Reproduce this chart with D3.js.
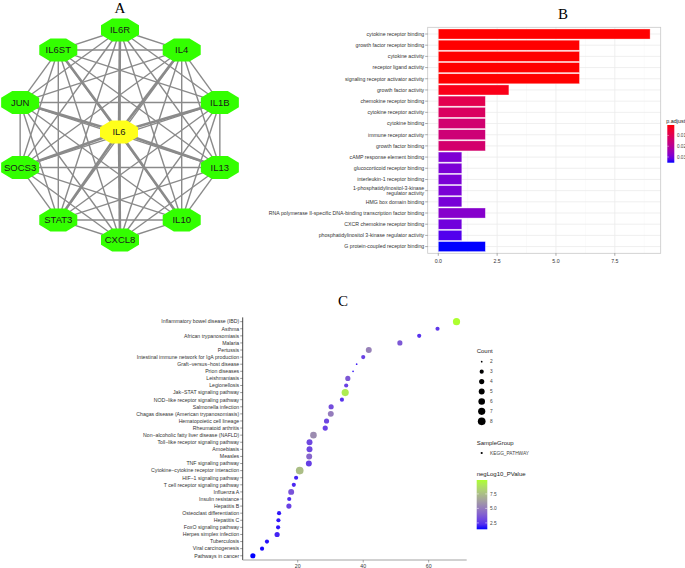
<!DOCTYPE html>
<html><head><meta charset="utf-8">
<script src="https://cdn.jsdelivr.net/npm/d3@7"></script>
<style>body{margin:0;background:#fff}svg{display:block}</style></head>
<body>
<svg id="chart" width="685" height="568"></svg>
<script>
// ---------- Panel A data ----------
const ringNodes = ["IL6R","IL4","IL1B","IL13","IL10","CXCL8","STAT3","SOCS3","JUN","IL6ST"];
const hubNode = "IL6";

// ---------- Panel B data ----------
const goTerms = ["cytokine receptor binding","growth factor receptor binding","cytokine activity","receptor ligand activity","signaling receptor activator activity","growth factor activity","chemokine receptor binding","cytokine receptor activity","cytokine binding","immune receptor activity","growth factor binding","cAMP response element binding","glucocorticoid receptor binding","interleukin-1 receptor binding","1-phosphatidylinositol-3-kinase\nregulator activity","HMG box domain binding","RNA polymerase II-specific DNA-binding transcription factor binding","CXCR chemokine receptor binding","phosphatidylinositol 3-kinase regulator activity","G protein-coupled receptor binding"];
const goCounts = [9,6,6,6,6,3,2,2,2,2,2,1,1,1,1,1,2,1,1,2];
const goPadj = [0.0003,0.0003,0.0003,0.0003,0.0003,0.002,0.009,0.0115,0.014,0.015,0.0135,0.029,0.0293,0.0293,0.0293,0.0296,0.028,0.0303,0.0328,0.0353];
const padjTicks = [0.01,0.02,0.03];
const goXTicks = [0,2.5,5,7.5];

// ---------- Panel C data ----------
const keggTerms = ["Inflammatory bowel disease (IBD)","Asthma","African trypanosomiasis","Malaria","Pertussis","Intestinal immune network for IgA production","Graft\u2212versus\u2212host disease","Prion diseases","Leishmaniasis","Legionellosis","Jak\u2212STAT signaling pathway","NOD\u2212like receptor signaling pathway","Salmonella infection","Chagas disease (American trypanosomiasis)","Hematopoietic cell lineage","Rheumatoid arthritis","Non\u2212alcoholic fatty liver disease (NAFLD)","Toll\u2212like receptor signaling pathway","Amoebiasis","Measles","TNF signaling pathway","Cytokine\u2212cytokine receptor interaction","HIF\u22121 signaling pathway","T cell receptor signaling pathway","Influenza A","Insulin resistance","Hepatitis B","Osteoclast differentiation","Hepatitis C","FoxO signaling pathway","Herpes simplex infection","Tuberculosis","Viral carcinogenesis","Pathways in cancer"];
const keggX = [68.5,62.7,57.1,51.2,41.7,40.0,38.0,36.9,35.3,34.8,34.5,33.5,30.2,30.1,28.8,28.4,24.8,23.6,23.6,23.5,23.4,20.6,19.5,18.8,18.0,17.4,17.3,14.3,14.1,14.0,13.7,10.6,9.1,6.3];
const keggCount = [7,3,3,4,5,3,2,2,4,3,7,3,4,5,4,4,6,5,5,5,5,8,3,3,5,3,4,3,3,3,4,3,3,4];
const keggP = [9.9,2.6,2.4,3.7,5.2,2.9,1.9,1.8,3.7,2.9,9.2,2.4,3.3,5.0,3.1,2.9,5.6,3.1,3.1,4.2,2.8,7.5,2.0,2.1,3.5,2.2,2.9,1.7,1.7,1.7,2.0,1.6,1.5,1.4];
const countTicks = [2,3,4,5,6,7,8];
const pTicks = [2.5,5.0,7.5];
const keggXTicks = [20,40,60];

const svg = d3.select("#chart");
const sans = "Liberation Sans, Arial, sans-serif";
const serif = "Liberation Serif, Times New Roman, serif";

// ================= Panel A =================
const gA = svg.append("g");
const angle = d3.scaleLinear().domain([0, ringNodes.length]).range([-Math.PI/2, 1.5*Math.PI]);
const cx = 120, cy = 135, R = 105;
const pos = {};
ringNodes.forEach((n,i)=>{ pos[n] = [cx + R*Math.cos(angle(i)), cy + R*Math.sin(angle(i))]; });
pos[hubNode] = [119, 132];
const allNodes = ringNodes.concat([hubNode]);
const edges = [];
for (let i=0;i<allNodes.length;i++) for (let j=i+1;j<allNodes.length;j++) edges.push([allNodes[i], allNodes[j]]);
gA.selectAll("line.e").data(edges).join("line")
  .attr("x1",d=>pos[d[0]][0]).attr("y1",d=>pos[d[0]][1])
  .attr("x2",d=>pos[d[1]][0]).attr("y2",d=>pos[d[1]][1])
  .attr("stroke","#8a8a8a")
  .attr("stroke-width",d=>(d[0]===hubNode||d[1]===hubNode)?2.6:1.4);
const W=38, H=23;
const oct = [[-0.5,-0.207],[-0.207,-0.5],[0.207,-0.5],[0.5,-0.207],[0.5,0.207],[0.207,0.5],[-0.207,0.5],[-0.5,0.207]]
  .map(p=>[p[0]*W, p[1]*H].join(",")).join(" ");
const ng = gA.selectAll("g.n").data(allNodes).join("g")
  .attr("transform",d=>`translate(${pos[d][0]},${pos[d][1]})`);
ng.append("polygon").attr("points",oct)
  .attr("fill",d=>d===hubNode?"#ffff1a":"#33ff00");
ng.append("text").text(d=>d).attr("text-anchor","middle").attr("dy","0.35em")
  .attr("font-family",sans).attr("font-size",9.5).attr("fill","#1a1a1a");
svg.append("text").text("A").attr("x",120).attr("y",13).attr("text-anchor","middle")
  .attr("font-family",serif).attr("font-size",15);

// ================= Panel B =================
const gB = svg.append("g");
const bL = 427.7, bR = 660.7, bT = 27.3, bB = 253.3;
const bMax = d3.max(goCounts);
const xB = d3.scaleLinear().domain([-0.05*bMax, 1.05*bMax]).range([bL, bR]);
const yB = d3.scalePoint().domain(goTerms).range([bT, bB]).padding(0.6);
const colB = d3.scaleLinear().domain([d3.min(goPadj), d3.max(goPadj)]).range(["#ff0000","#0000ff"]).interpolate(d3.interpolateLab);
gB.append("rect").attr("x",bL).attr("y",bT).attr("width",bR-bL).attr("height",bB-bT).attr("fill","#fff");
const minorB = goXTicks.map(t=>t+1.25).filter(t=>t<=xB.domain()[1]);
gB.selectAll("line.mn").data(minorB).join("line").attr("x1",d=>xB(d)).attr("x2",d=>xB(d)).attr("y1",bT).attr("y2",bB).attr("stroke","#f4f4f4").attr("stroke-width",0.5);
gB.selectAll("line.mj").data(goXTicks).join("line").attr("x1",d=>xB(d)).attr("x2",d=>xB(d)).attr("y1",bT).attr("y2",bB).attr("stroke","#ebebeb").attr("stroke-width",0.8);
gB.selectAll("line.hg").data(goTerms).join("line").attr("x1",bL).attr("x2",bR).attr("y1",d=>yB(d)).attr("y2",d=>yB(d)).attr("stroke","#ebebeb").attr("stroke-width",0.8);
const bh = yB.step()*0.9;
gB.selectAll("rect.bar").data(goTerms).join("rect")
  .attr("x",xB(0)).attr("y",d=>yB(d)-bh/2)
  .attr("width",(d,i)=>xB(goCounts[i])-xB(0)).attr("height",bh)
  .attr("fill",(d,i)=>colB(goPadj[i])).attr("stroke","#fff").attr("stroke-opacity",0.6).attr("stroke-width",0.6);
gB.append("rect").attr("x",bL).attr("y",bT).attr("width",bR-bL).attr("height",bB-bT).attr("fill","none").attr("stroke","#c8c8c8").attr("stroke-width",0.8);
// y labels
gB.selectAll("line.yt").data(goTerms).join("line").attr("x1",bL-2.5).attr("x2",bL).attr("y1",d=>yB(d)).attr("y2",d=>yB(d)).attr("stroke","#555").attr("stroke-width",0.5);
const ylab = gB.selectAll("text.yl").data(goTerms).join("text")
  .attr("text-anchor","end").attr("font-family",sans).attr("font-size",5.2).attr("fill","#333")
  .attr("transform",d=>`translate(${bL-3.5},${yB(d)})`);
ylab.each(function(d){
  const lines = d.split("\n");
  const t = d3.select(this);
  lines.forEach((l,k)=>{
    t.append("tspan").attr("x",0).attr("y",(k-(lines.length-1)/2)*5.6).attr("dy","0.35em").text(l);
  });
});
gB.selectAll("line.xt").data(goXTicks).join("line").attr("x1",d=>xB(d)).attr("x2",d=>xB(d)).attr("y1",bB).attr("y2",bB+2.5).attr("stroke","#555").attr("stroke-width",0.5);
gB.selectAll("text.xl").data(goXTicks).join("text").attr("x",d=>xB(d)).attr("y",bB+9.5).attr("text-anchor","middle")
  .attr("font-family",sans).attr("font-size",5.2).attr("fill","#333").text(d=>d.toFixed(1));
svg.append("text").text("B").attr("x",563).attr("y",19).attr("text-anchor","middle")
  .attr("font-family",serif).attr("font-size",15);
// legend B
const defs = svg.append("defs");
const gradB = defs.append("linearGradient").attr("id","gB").attr("x1",0).attr("x2",0).attr("y1",0).attr("y2",1);
d3.range(0,1.0001,0.1).forEach(t=>gradB.append("stop").attr("offset",t).attr("stop-color",colB(colB.domain()[0]+t*(colB.domain()[1]-colB.domain()[0]))));
const lbT=125, lbB=162.7;
const yLB = d3.scaleLinear().domain(colB.domain()).range([lbT,lbB]);
svg.append("text").text("p.adjust").attr("x",666.3).attr("y",122.5).attr("font-family",sans).attr("font-size",5.4).attr("fill","#222");
svg.append("rect").attr("x",667.3).attr("y",lbT).attr("width",7).attr("height",lbB-lbT).attr("fill","url(#gB)");
svg.selectAll("line.lbt").data(padjTicks).join("line").attr("x1",667.3).attr("x2",668.8).attr("y1",d=>yLB(d)).attr("y2",d=>yLB(d)).attr("stroke","#fff").attr("stroke-width",0.5);
svg.selectAll("text.lbl").data(padjTicks).join("text").attr("x",677).attr("y",d=>yLB(d)).attr("dy","0.35em")
  .attr("font-family",sans).attr("font-size",4.6).attr("fill","#444").text(d=>d.toFixed(2));

// ================= Panel C =================
const gC = svg.append("g");
const cL = 242.7, cT = 317.4, cB = 560;
const ext = d3.extent(keggX), span = ext[1]-ext[0];
const xC = d3.scaleLinear().domain([ext[0]-0.05*span, ext[1]+0.05*span]).range([cL, 466.7]);
const yC = d3.scalePoint().domain(keggTerms).range([cT, cB]).padding(0.6);
const colC = d3.scaleLinear().domain([d3.min(keggP), d3.max(keggP)]).range(["#0000ff","#adff2f"]).interpolate(d3.interpolateLab);
const rS = d3.scaleSqrt().domain([0,6]).range([0.85,3.85]);
const rC = c => rS(c - d3.min(countTicks));
gC.append("line").attr("x1",cL).attr("x2",cL).attr("y1",cT).attr("y2",cB).attr("stroke","#333").attr("stroke-width",0.9);
gC.append("line").attr("x1",cL).attr("x2",466.7).attr("y1",cB).attr("y2",cB).attr("stroke","#999").attr("stroke-width",0.9);
gC.selectAll("line.yt").data(keggTerms).join("line").attr("x1",cL-2.5).attr("x2",cL).attr("y1",d=>yC(d)).attr("y2",d=>yC(d)).attr("stroke","#333").attr("stroke-width",0.5);
gC.selectAll("text.yl").data(keggTerms).join("text").attr("x",cL-3.5).attr("y",d=>yC(d)).attr("dy","0.35em")
  .attr("text-anchor","end").attr("font-family",sans).attr("font-size",5.2).attr("fill","#333").text(d=>d);
gC.selectAll("line.xt").data(keggXTicks).join("line").attr("x1",d=>xC(d)).attr("x2",d=>xC(d)).attr("y1",cB).attr("y2",cB+2.5).attr("stroke","#555").attr("stroke-width",0.5);
gC.selectAll("text.xl").data(keggXTicks).join("text").attr("x",d=>xC(d)).attr("y",cB+7.5).attr("text-anchor","middle")
  .attr("font-family",sans).attr("font-size",5.2).attr("fill","#333").text(d=>d);
gC.selectAll("circle.pt").data(keggTerms).join("circle")
  .attr("cx",(d,i)=>xC(keggX[i])).attr("cy",d=>yC(d)).attr("r",(d,i)=>rC(keggCount[i]))
  .attr("fill",(d,i)=>colC(keggP[i]));
svg.append("text").text("C").attr("x",343).attr("y",306).attr("text-anchor","middle")
  .attr("font-family",serif).attr("font-size",15);
// legends C
const lx = 481.7, ltx = 490;
svg.append("text").text("Count").attr("x",476.7).attr("y",353).attr("font-family",sans).attr("font-size",6).attr("fill","#222");
const yCnt = d3.scalePoint().domain(countTicks).range([361.7,421.3]);
svg.selectAll("circle.lc").data(countTicks).join("circle").attr("cx",lx).attr("cy",d=>yCnt(d)).attr("r",d=>rC(d)).attr("fill","#000");
svg.selectAll("text.lc").data(countTicks).join("text").attr("x",ltx).attr("y",d=>yCnt(d)).attr("dy","0.35em")
  .attr("font-family",sans).attr("font-size",4.8).attr("fill","#444").text(d=>d);
svg.append("text").text("SampleGroup").attr("x",476.7).attr("y",444.5).attr("font-family",sans).attr("font-size",6).attr("fill","#222");
svg.append("circle").attr("cx",lx).attr("cy",453).attr("r",1.1).attr("fill","#000");
svg.append("text").text("KEGG_PATHWAY").attr("x",ltx).attr("y",453).attr("dy","0.35em").attr("font-family",sans).attr("font-size",4.8).attr("fill","#444");
svg.append("text").text("negLog10_PValue").attr("x",476.7).attr("y",475.5).attr("font-family",sans).attr("font-size",6).attr("fill","#222");
const gradC = defs.append("linearGradient").attr("id","gC").attr("x1",0).attr("x2",0).attr("y1",1).attr("y2",0);
d3.range(0,1.0001,0.1).forEach(t=>gradC.append("stop").attr("offset",t).attr("stop-color",colC(colC.domain()[0]+t*(colC.domain()[1]-colC.domain()[0]))));
const lcT = 480, lcB = 529.3;
const yLC = d3.scaleLinear().domain(colC.domain()).range([lcB,lcT]);
svg.append("rect").attr("x",476.7).attr("y",lcT).attr("width",10.6).attr("height",lcB-lcT).attr("fill","url(#gC)");
svg.selectAll("line.lct").data(pTicks).join("line").attr("x1",476.7).attr("x2",478.8).attr("y1",d=>yLC(d)).attr("y2",d=>yLC(d)).attr("stroke","#fff").attr("stroke-width",0.5);
svg.selectAll("line.lct2").data(pTicks).join("line").attr("x1",485.2).attr("x2",487.3).attr("y1",d=>yLC(d)).attr("y2",d=>yLC(d)).attr("stroke","#fff").attr("stroke-width",0.5);
svg.selectAll("text.lct").data(pTicks).join("text").attr("x",490).attr("y",d=>yLC(d)).attr("dy","0.35em")
  .attr("font-family",sans).attr("font-size",4.8).attr("fill","#444").text(d=>d.toFixed(1));
</script>
</body></html>
